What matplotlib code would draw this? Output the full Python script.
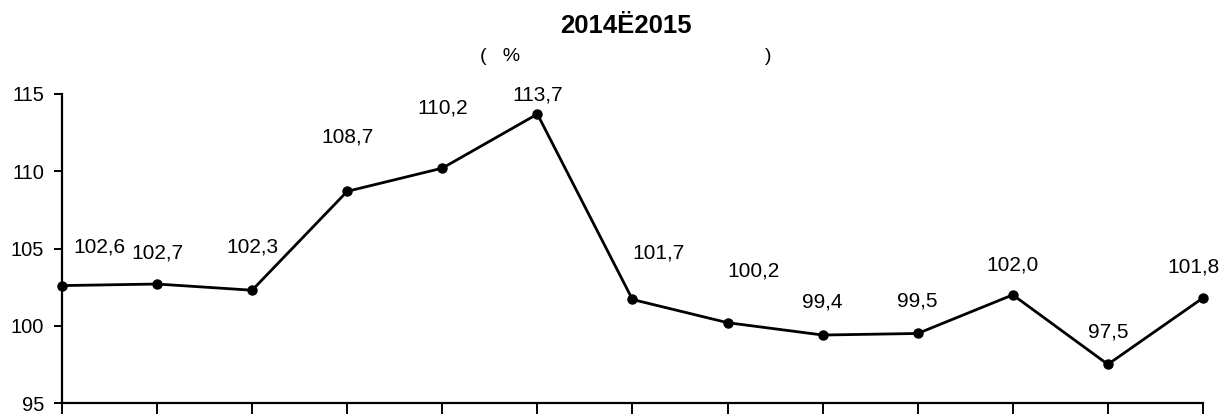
import matplotlib.pyplot as plt
import numpy as np

plt.rcParams['font.family'] = ['Liberation Sans', 'DejaVu Sans']

# monthly index values, %
values = [102.6, 102.7, 102.3, 108.7, 110.2, 113.7, 101.7,
          100.2, 99.4, 99.5, 102.0, 97.5, 101.8]
value_labels = ['102,6', '102,7', '102,3', '108,7', '110,2', '113,7', '101,7',
                '100,2', '99,4', '99,5', '102,0', '97,5', '101,8']
y_ticks = [95, 100, 105, 110, 115]

# label offsets in pixels (dx, dy) as placed in the original
label_dx = [37, 0, 0, 0, 0, 0, 26, 26, 0, 0, 0, 0, -9]
label_dy = [39, 31, 43, 54, 60, 19, 46, 52, 33, 32, 30, 32, 31]

fig = plt.figure(figsize=(12.27, 4.15), dpi=100)
ax = fig.add_axes([0.0505, 0.0289, 0.9299, 0.7446])

x = np.arange(len(values))
ax.plot(x, values, color='black', linewidth=2, marker='o', markersize=6.5,
        clip_on=False, zorder=3)

for xi, v, lab, dx, dy in zip(x, values, value_labels, label_dx, label_dy):
    ax.annotate(lab, (xi, v), xytext=(dx, dy), textcoords='offset pixels',
                ha='center', va='center', fontsize=15)

ax.set_xlim(0, len(values) - 1)
ax.set_ylim(95, 115)
ax.set_yticks(y_ticks)
ax.set_yticklabels([str(t) for t in y_ticks], fontsize=14.5)
ax.set_xticks(x)
ax.set_xticklabels([])
ax.tick_params(axis='y', direction='out', length=6, width=1.4, pad=7)
ax.tick_params(axis='x', direction='out', length=8, width=1.4)
ax.spines['top'].set_visible(False)
ax.spines['right'].set_visible(False)
ax.spines['left'].set_linewidth(1.6)
ax.spines['bottom'].set_linewidth(1.6)

fig.text(0.510, 0.938, '2014Ë2015', ha='center', va='center',
         fontsize=18.5, fontweight='bold')
fig.text(0.391, 0.865, '(   %', ha='left', va='center', fontsize=14)
fig.text(0.629, 0.865, ')', ha='right', va='center', fontsize=14)

fig.savefig('out.png', dpi=100)
